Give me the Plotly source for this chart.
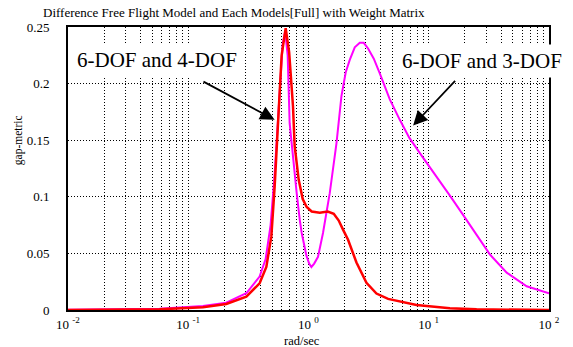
import plotly.graph_objects as go

# ---- data ----
freq_4dof = [0.01, 0.02, 0.03, 0.0577, 0.1324, 0.207, 0.304, 0.392, 0.446, 0.491, 0.523, 0.557,
             0.598, 0.646, 0.69, 0.743, 0.767, 0.829, 0.895, 0.966, 1.063, 1.24, 1.445, 1.622,
             1.784, 1.937, 2.133, 2.505, 3.034, 3.675, 4.59, 7.91, 14.99, 25.0, 50.0, 100.0]
gap_4dof = [0.0, 0.0001, 0.0002, 0.0006, 0.0024, 0.0053, 0.0118, 0.0236, 0.038, 0.065, 0.109, 0.168,
            0.225, 0.249, 0.228, 0.18, 0.145, 0.115, 0.098, 0.091, 0.087, 0.086, 0.087, 0.085,
            0.079, 0.071, 0.062, 0.042, 0.024, 0.0145, 0.0098, 0.0044, 0.0015, 0.0006, 0.0002, 0.0]

freq_3dof = [0.01, 0.0305, 0.0577, 0.1324, 0.207, 0.304, 0.392, 0.44, 0.484, 0.523, 0.565, 0.61,
             0.64, 0.671, 0.697, 0.725, 0.767, 0.798, 0.845, 0.878, 0.961, 1.013, 1.057, 1.115,
             1.2, 1.32, 1.501, 1.707, 1.879, 2.04, 2.203, 2.425, 2.669, 2.88, 3.129, 3.491,
             3.915, 4.743, 5.745, 6.9, 8.9, 11.6, 14.99, 19.3, 25.0, 32.3, 44.5, 65.2, 100.0]
gap_3dof = [0.0002, 0.0006, 0.0012, 0.0035, 0.0065, 0.0148, 0.0295, 0.045, 0.075, 0.12, 0.18, 0.235,
            0.246, 0.225, 0.165, 0.145, 0.122, 0.103, 0.08, 0.068, 0.048, 0.041, 0.038, 0.041,
            0.047, 0.068, 0.103, 0.147, 0.189, 0.21, 0.221, 0.232, 0.236, 0.236, 0.231, 0.222,
            0.209, 0.186, 0.168, 0.152, 0.135, 0.118, 0.101, 0.084, 0.066, 0.049, 0.033, 0.021, 0.0148]

decades = [0.01, 0.1, 1, 10, 100]
decade_labels = ["10 <sup>-2</sup>", "10 <sup>-1</sup>", "10 <sup>0</sup>", "10 <sup>1</sup>", "10 <sup>2</sup>"]
y_ticks = [0, 0.05, 0.1, 0.15, 0.2, 0.25]
y_tick_labels = ["0", "0.05", "0.1", "0.15", "0.2", "0.25"]

title_text = "Difference Free Flight Model and Each Models[Full] with Weight Matrix"
label_4dof = "6-DOF and 4-DOF"
label_3dof = "6-DOF and 3-DOF"

# minor log grid positions (2..9 x each decade)
minor_vals = [round(d * m, 6) for d in decades[:-1] for m in range(2, 10)]

FONT = "Liberation Serif"

fig = go.Figure()
fig.add_trace(go.Scatter(x=freq_3dof, y=gap_3dof, mode="lines",
                         line=dict(color="#ff00ff", width=2), showlegend=False))
fig.add_trace(go.Scatter(x=freq_4dof, y=gap_4dof, mode="lines",
                         line=dict(color="#ff0000", width=2.5), showlegend=False))

fig.update_layout(
    width=573, height=347,
    margin=dict(l=68, r=24, t=27, b=37),
    paper_bgcolor="white", plot_bgcolor="white",
    font=dict(family=FONT, size=13, color="black"),
    showlegend=False,
)
grid_style = dict(showgrid=True, gridcolor="#000", gridwidth=1, griddash="1px,2px")
fig.update_xaxes(type="log", range=[-2, 2], tickvals=decades, ticktext=decade_labels,
                 minor=dict(tickvals=minor_vals, ticks="", **grid_style),
                 showline=True, linecolor="black", linewidth=2, mirror=True,
                 ticks="", zeroline=False, ticklabelstandoff=1,
                 tickfont=dict(family=FONT, size=13), **grid_style)
fig.update_yaxes(range=[0, 0.25], tickvals=y_ticks, ticktext=y_tick_labels,
                 showline=True, linecolor="black", linewidth=2, mirror=True,
                 ticks="", zeroline=False, ticklabelstandoff=14,
                 tickfont=dict(family=FONT, size=13), **grid_style)

# title, axis titles
fig.add_annotation(text=title_text, xref="paper", yref="paper", x=-0.057, y=1.053,
                   xanchor="left", yanchor="middle", showarrow=False,
                   font=dict(family=FONT, size=13))
fig.add_annotation(text="gap-metric", xref="paper", yref="paper", x=-0.104, y=0.60,
                   textangle=-90, xanchor="center", yanchor="middle", showarrow=False,
                   font=dict(family=FONT, size=11.5))
fig.add_annotation(text="rad/sec", xref="paper", yref="paper", x=0.4865, y=-0.109,
                   xanchor="center", yanchor="middle", showarrow=False,
                   font=dict(family=FONT, size=12.5))

# curve labels with white boxes
fig.add_annotation(text=label_4dof, xref="paper", yref="paper", x=0.1844, y=0.8834,
                   xanchor="center", yanchor="middle", showarrow=False, bgcolor="white",
                   borderpad=4, font=dict(family=FONT, size=21))
fig.add_annotation(text=label_3dof, xref="paper", yref="paper", x=0.860, y=0.881,
                   xanchor="center", yanchor="middle", showarrow=False, bgcolor="white",
                   borderpad=4, font=dict(family=FONT, size=21))

# arrows
fig.add_annotation(text="", x=-0.2814, y=0.168, xref="x", yref="y", ax=-72.7, ay=-39,
                   showarrow=True, arrowhead=2, arrowsize=1.6, arrowwidth=1.8, arrowcolor="black")
fig.add_annotation(text="", x=0.870, y=0.163, xref="x", yref="y", ax=43.4, ay=-46,
                   showarrow=True, arrowhead=2, arrowsize=1.6, arrowwidth=1.8, arrowcolor="black")

fig.write_html("out.html", config={"displayModeBar": False},
               post_script="document.body.style.margin='0';")
